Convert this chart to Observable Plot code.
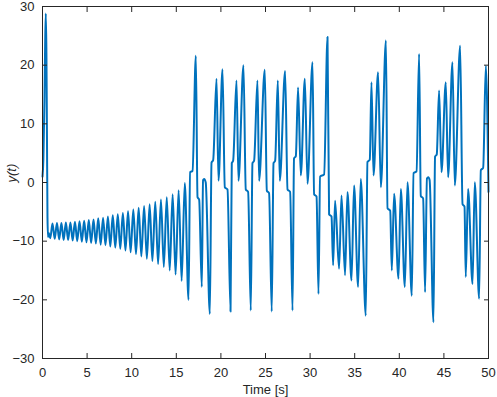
<!DOCTYPE html>
<html>
<head>
<meta charset="utf-8">
<script src="https://cdn.jsdelivr.net/npm/d3@7"></script>
<script src="https://cdn.jsdelivr.net/npm/@observablehq/plot@0.6"></script>
<style>
  html, body { margin: 0; padding: 0; background: #ffffff; }
  #chart { width: 497px; height: 397px; }
</style>
</head>
<body>
<div id="chart"></div>
<script>
// Time samples (s)
const tValues = [
  0.00, 0.10, 0.22, 0.30, 0.37, 0.44, 0.50, 0.56, 0.62, 0.70, 0.87,
  1.12, 1.37, 1.62, 1.87, 2.12, 2.37, 2.62, 2.87, 3.13, 3.38, 3.64, 3.89,
  4.15, 4.41, 4.67, 4.93, 5.19, 5.45, 5.72, 5.98, 6.25, 6.52, 6.79, 7.06,
  7.33, 7.60, 7.88, 8.16, 8.44, 8.72, 9.01, 9.30, 9.59, 9.88, 10.18, 10.48,
  10.78, 11.08, 11.39, 11.70, 12.01, 12.32, 12.64, 12.96, 13.28, 13.60,
  13.93, 14.26, 14.59, 14.92, 15.26, 15.60, 15.95, 16.37,
  16.55, 16.82, 17.19, 17.38, 17.56, 17.86, 18.00, 18.12, 18.30, 18.76,
  18.95, 19.13, 19.51, 19.73, 20.18, 20.44, 20.74, 21.08,
  21.22, 21.37, 21.75, 21.97, 22.53, 22.79, 23.05, 23.35,
  23.54, 23.72, 24.10, 24.28, 24.92, 25.15, 25.40, 25.70,
  25.90, 26.08, 26.38, 26.60, 27.20, 27.47, 27.76, 28.03,
  28.20, 28.40, 28.65, 28.96, 29.41, 29.71, 30.27, 30.45, 30.72, 30.94,
  31.12, 31.57, 31.95, 32.13, 32.40, 32.58, 32.80, 33.25, 33.52, 33.92,
  34.19, 34.64, 34.93, 35.38, 35.68, 36.24,
  36.43, 36.69, 36.88, 37.11, 37.62, 37.93, 38.50, 38.68, 38.98, 39.16,
  39.42, 39.91, 40.17, 40.62, 40.92, 41.40,
  41.60, 41.93, 42.22, 42.41, 42.67, 42.89, 43.10, 43.25, 43.40, 43.83,
  44.01, 44.20, 44.46, 44.73, 45.21, 45.47, 45.96, 46.22, 46.82,
  47.09, 47.31, 47.45, 47.71, 48.21, 48.46, 48.95,
  49.14, 49.40, 49.70, 50.00
];
// y(t) values
const yValues = [
  1.0, 4.0, 14.0, 24.0, 28.8, 22.0, 8.0, -6.0, -9.3, -8.6, -9.5,
  -7.0, -9.6, -6.9, -9.7, -6.9, -9.8, -6.8, -9.8, -6.8, -9.9, -6.7, -10.0,
  -6.6, -10.1, -6.5, -10.2, -6.4, -10.3, -6.3, -10.4, -6.1, -10.6, -6.0, -10.7,
  -5.8, -10.9, -5.6, -11.1, -5.4, -11.3, -5.2, -11.6, -4.9, -11.9, -4.6, -12.2,
  -4.3, -12.6, -4.0, -13.0, -3.7, -13.4, -3.3, -13.9, -2.9, -14.4,
  -2.5, -15.0, -2.0, -15.7, -1.3, -16.8, -0.1, -20.0,
  1.75, 2.0, 21.6, -2.5, -2.9, -17.8, 0.4, 0.6, 0.0, -22.4,
  3.4, 3.8, 17.7, 0.3, 19.3, -0.8, -1.2, -22.0,
  3.3, 3.7, 17.4, 0.3, 20.0, -1.2, -1.6, -21.8,
  3.3, 3.7, 17.4, 0.3, 19.2, -1.4, -1.8, -22.0,
  3.3, 3.7, 17.4, 0.3, 19.0, -1.2, -1.6, -21.8,
  4.1, 4.5, 16.2, 1.2, 17.7, -0.2, 20.5, -2.0, -2.4, -19.0,
  1.0, 1.4, 24.8, -5.4, -5.8, -14.1, -3.1, -14.7, -2.2, -15.8,
  -1.6, -16.7, -0.5, -17.8, 0.6, -22.7,
  3.5, 3.9, 17.1, 1.2, 18.8, -0.8, 24.2, -4.4, -4.8, -15.0,
  -1.9, -16.4, -1.1, -17.8, 0.05, -19.3,
  1.6, 1.9, 21.9, -2.3, -2.7, -18.7, 0.7, 0.9, 0.4, -23.8,
  4.4, 4.8, 15.7, 1.75, 17.1, 0.9, 20.5, -0.5, 23.3,
  -3.7, -4.1, -16.1, -1.1, -17.3, 0.05, -19.8,
  2.1, 2.5, 19.9, -1.6
];
const xTicks = [0, 5, 10, 15, 20, 25, 30, 35, 40, 45, 50];
const yTicks = [-30, -20, -10, 0, 10, 20, 30];
const xLabel = "Time [s]";
const yLabel = "y(t)";

const data = tValues.map((t, i) => ({t, y: yValues[i]}));
const ink = "#262626";

const chart = Plot.plot({
  width: 497,
  height: 397,
  marginLeft: 42,
  marginRight: 9,
  marginTop: 6,
  marginBottom: 39,
  style: {
    fontFamily: "'Liberation Sans', Arial, Helvetica, sans-serif",
    fontSize: "13px",
    color: ink,
    background: "#ffffff",
    overflow: "visible"
  },
  x: {domain: [0, 50]},
  y: {domain: [-30, 30]},
  marks: [
    Plot.line(data, {x: "t", y: "y", stroke: "#0072BD", strokeWidth: 2, curve: "monotone-x"}),
    Plot.frame({stroke: ink, strokeWidth: 1}),
    Plot.axisX(xTicks, {anchor: "bottom", tickSize: 5, dy: -5, fill: "none", stroke: ink}),
    Plot.axisX(xTicks, {anchor: "top", tickSize: 5, dy: 5, fill: "none", stroke: ink}),
    Plot.axisY(yTicks, {anchor: "left", tickSize: 5, dx: 5, fill: "none", stroke: ink}),
    Plot.axisY(yTicks, {anchor: "right", tickSize: 5, dx: -5, fill: "none", stroke: ink}),
    Plot.axisX(xTicks, {anchor: "bottom", tickSize: 0, tickPadding: 9, fill: ink, label: null}),
    Plot.axisY(yTicks, {anchor: "left", tickSize: 0, tickPadding: 8, fill: ink, label: null}),
    Plot.text([xLabel], {frameAnchor: "bottom", dy: 31, lineAnchor: "middle", fontSize: 13, fill: ink}),
    Plot.text([yLabel], {frameAnchor: "left", rotate: -90, dx: -31, fontStyle: "italic", fontSize: 13, fill: ink})
  ]
});
document.getElementById("chart").appendChild(chart);
</script>
</body>
</html>
